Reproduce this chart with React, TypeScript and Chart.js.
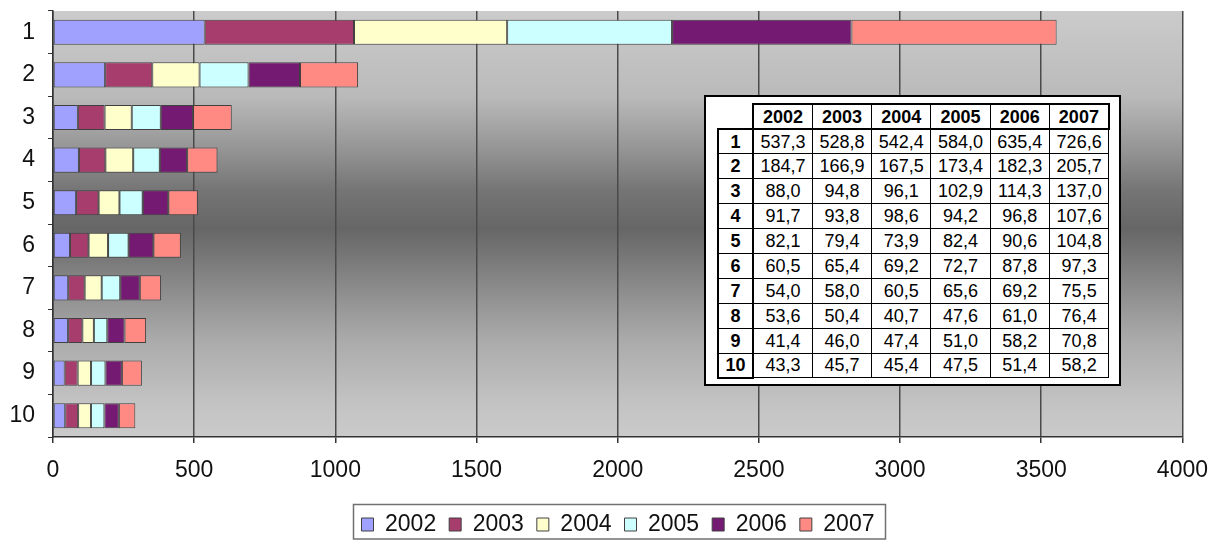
import React, { useEffect, useRef } from 'react';
import { Chart, registerables } from 'chart.js';

Chart.register(...registerables);

const categories = ['1', '2', '3', '4', '5', '6', '7', '8', '9', '10'];
const years = ['2002', '2003', '2004', '2005', '2006', '2007'];
const v2002 = [537.3, 184.7, 88.0, 91.7, 82.1, 60.5, 54.0, 53.6, 41.4, 43.3];
const v2003 = [528.8, 166.9, 94.8, 93.8, 79.4, 65.4, 58.0, 50.4, 46.0, 45.7];
const v2004 = [542.4, 167.5, 96.1, 98.6, 73.9, 69.2, 60.5, 40.7, 47.4, 45.4];
const v2005 = [584.0, 173.4, 102.9, 94.2, 82.4, 72.7, 65.6, 47.6, 51.0, 47.5];
const v2006 = [635.4, 182.3, 114.3, 96.8, 90.6, 87.8, 69.2, 61.0, 58.2, 51.4];
const v2007 = [726.6, 205.7, 137.0, 107.6, 104.8, 97.3, 75.5, 76.4, 70.8, 58.2];
const series = [v2002, v2003, v2004, v2005, v2006, v2007];
const xMin = 0;
const xMax = 4000;
const xStep = 500;

const colors = ['#a0a0ff', '#a63d6c', '#ffffcc', '#ccffff', '#751a73', '#ff8a84'];
const FONT = '"Liberation Sans", Arial, sans-serif';

const fmt = (v: number) => v.toFixed(1).replace('.', ',');

const bgPlugin = {
  id: 'bgGradient',
  beforeDraw(chart: any) {
    const { ctx, chartArea: a } = chart;
    const g = ctx.createLinearGradient(0, a.top, 0, a.bottom);
    g.addColorStop(0, '#cbcbcb');
    g.addColorStop(0.2, '#bababa');
    g.addColorStop(0.33, '#939393');
    g.addColorStop(0.42, '#757575');
    g.addColorStop(0.51, '#666666');
    g.addColorStop(0.58, '#787878');
    g.addColorStop(0.68, '#939393');
    g.addColorStop(0.77, '#aaaaaa');
    g.addColorStop(0.92, '#c3c3c3');
    g.addColorStop(1, '#cacaca');
    ctx.save();
    ctx.fillStyle = g;
    ctx.fillRect(a.left, a.top, a.right - a.left, a.bottom - a.top);
    ctx.restore();
  },
};

const legendShiftPlugin = {
  id: 'legendShift',
  afterLayout(chart: any) {
    const lg = chart.legend;
    if (!lg) return;
    lg.left += 24;
    lg.right += 24;
  },
};

const legendBorderPlugin = {
  id: 'legendBorder',
  afterDraw(chart: any) {
    const lg = chart.legend;
    if (!lg || !lg.legendHitBoxes || !lg.legendHitBoxes.length) return;
    const hbs = lg.legendHitBoxes;
    let l = Infinity, r = -Infinity, t = Infinity;
    hbs.forEach((h: any) => {
      l = Math.min(l, h.left);
      r = Math.max(r, h.left + h.width);
      t = Math.min(t, h.top);
    });
    const { ctx } = chart;
    ctx.save();
    ctx.strokeStyle = '#707070';
    ctx.lineWidth = 1.5;
    ctx.strokeRect(l - 8, t - 8.5, r - l + 19, chart.height - (t - 8.5) - 1);
    ctx.restore();
  },
};

export default function App() {
  const ref = useRef<HTMLCanvasElement | null>(null);

  useEffect(() => {
    if (!ref.current) return;
    const chart = new Chart(ref.current, {
      type: 'bar',
      data: {
        labels: categories,
        datasets: years.map((y, i) => ({
          label: y,
          data: series[i],
          backgroundColor: colors[i],
          borderColor: '#404040',
          borderWidth: 1,
          borderSkipped: false,
          barPercentage: 0.59,
          categoryPercentage: 1,
        })),
      },
      options: {
        indexAxis: 'y',
        responsive: false,
        animation: false,
        devicePixelRatio: 1,
        layout: { padding: { left: 0, right: 34, top: 11, bottom: -6 } },
        font: { family: FONT },
        scales: {
          x: {
            stacked: true,
            min: xMin,
            max: xMax,
            ticks: {
              stepSize: xStep,
              color: '#111',
              font: { family: FONT, size: 23 },
              padding: 14,
              callback: (v: any) => String(v),
            },
            grid: { color: '#4a4a4a', lineWidth: 1.5, drawTicks: true, tickLength: 6, tickColor: '#333' },
            border: { display: true, color: '#333', width: 1.5 },
            afterFit: (s: any) => {
              s.height = 63;
            },
          },
          y: {
            stacked: true,
            ticks: { color: '#111', font: { family: FONT, size: 23 }, padding: 13 },
            grid: { drawOnChartArea: false, drawTicks: true, tickLength: 5, tickColor: '#333', offset: true },
            border: { display: true, color: '#333', width: 1.5 },
            afterFit: (s: any) => {
              s.width = 53;
              s.paddingTop = 0;
              s.paddingBottom = 0;
            },
          },
        },
        plugins: {
          legend: {
            position: 'bottom',
            labels: {
              color: '#111',
              font: { family: FONT, size: 23 },
              boxWidth: 12,
              boxHeight: 13,
              padding: 13,
            },
          },
          tooltip: { enabled: false },
        },
      } as any,
      plugins: [bgPlugin, legendShiftPlugin, legendBorderPlugin],
    });
    return () => chart.destroy();
  }, []);

  const thick = '2px solid #000';
  const thin = '1px solid #000';

  return (
    <div style={{ position: 'absolute', left: 0, top: 0, width: 1222, height: 540, background: '#fff' }}>
      <canvas ref={ref} width={1222} height={540} style={{ display: 'block' }} />
      <div
        style={{
          position: 'absolute',
          left: 704,
          top: 95,
          width: 417,
          height: 291,
          boxSizing: 'border-box',
          border: '2px solid #000',
          background: '#fff',
        }}
      />
      <table
        style={{
          position: 'absolute',
          left: 717,
          top: 103,
          width: 391,
          borderCollapse: 'collapse',
          tableLayout: 'fixed',
          fontFamily: FONT,
          fontSize: 18,
          color: '#000',
          lineHeight: 1,
        }}
      >
        <colgroup>
          <col style={{ width: 35 }} />
          {years.map((y) => (
            <col key={y} style={{ width: 59.3 }} />
          ))}
        </colgroup>
        <thead>
          <tr style={{ height: 25 }}>
            <th style={{ border: 'none', padding: 0 }}></th>
            {years.map((y, i) => (
              <th
                key={y}
                style={{
                  padding: 0,
                  fontWeight: 'bold',
                  textAlign: 'center',
                  borderTop: thick,
                  borderBottom: thick,
                  borderLeft: i === 0 ? thick : thin,
                  borderRight: i === years.length - 1 ? thick : thin,
                }}
              >
                {y}
              </th>
            ))}
          </tr>
        </thead>
        <tbody>
          {categories.map((c, r) => (
            <tr key={c} style={{ height: 24.9 }}>
              <td
                style={{
                  padding: 0,
                  fontWeight: 'bold',
                  textAlign: 'center',
                  borderLeft: thick,
                  borderRight: thick,
                  borderTop: r === 0 ? thick : thin,
                  borderBottom: r === categories.length - 1 ? thick : thin,
                }}
              >
                {c}
              </td>
              {series.map((s, i) => (
                <td key={i} style={{ padding: 0, textAlign: 'center', border: thin }}>
                  {fmt(s[r])}
                </td>
              ))}
            </tr>
          ))}
        </tbody>
      </table>
    </div>
  );
}
